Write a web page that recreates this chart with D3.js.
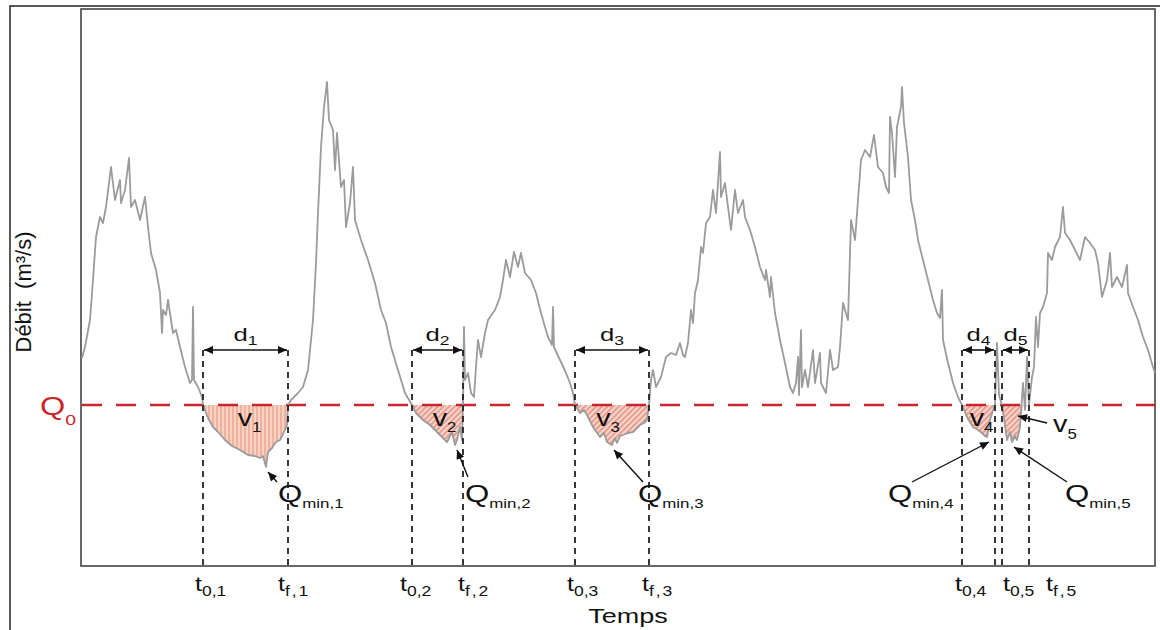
<!DOCTYPE html>
<html>
<head>
<meta charset="utf-8">
<script src="https://cdn.jsdelivr.net/npm/d3@7"></script>
<style>
  body { margin: 0; background: #fff; }
  svg { display: block; font-family: "Liberation Sans", Arial, sans-serif; }
</style>
</head>
<body>
<svg id="chart" width="1160" height="630"></svg>
<script>
'use strict'

// hydrograph: time step and discharge (m3/s, arbitrary scale)
const timeSteps = [
  1, 4, 9, 12, 15, 19, 22, 25, 30, 34, 39, 40, 44, 48, 50, 54, 59, 64, 67, 70,
  75, 79, 81, 82, 85, 87, 90, 92, 95, 99, 104, 109, 111, 112, 113, 117, 121, 122,
  127, 132, 137, 144, 151, 159, 167, 174, 179, 182, 185, 187, 191, 195, 199, 203, 206, 207,
  210, 217, 222, 227, 230, 232, 235, 237, 240, 243, 246, 248, 252, 254, 256, 260, 263, 265,
  269, 272, 274, 280, 287, 294, 300, 305, 310, 317, 324, 331,
  335, 342, 349, 356, 361, 366, 371, 374, 376, 379, 381, 382,
  383, 384, 387, 390, 393, 395, 397, 400, 404, 407, 414, 419, 422, 425, 429, 433, 437, 440,
  444, 450, 455, 460, 464, 467, 471, 472, 473, 479, 485, 489, 492, 494,
  499, 503, 506, 512, 519, 523, 526, 531, 534, 536, 539, 542, 547, 552, 556, 559, 563, 566, 568,
  570, 572, 575, 580, 585, 590, 595, 599, 602, 604, 607, 610, 612, 614, 617, 620, 622, 625,
  629, 632, 635, 639, 640, 644, 647, 650, 654, 657, 662, 664, 669, 674, 679, 684, 685, 689,
  690, 694, 699, 704, 709, 712, 715, 717, 718, 720, 721, 724, 727, 732, 734, 739, 740, 745,
  749, 752, 757, 759, 762, 767, 770, 774, 777, 780, 784, 789, 793, 797, 802, 805, 808, 809,
  811, 814, 816, 820, 821, 823, 827, 830, 834, 837, 842, 847, 852, 856, 859, 861, 862, 867,
  872, 877, 881,
  886, 889, 892, 897, 901, 904, 906, 909, 912, 914, 916, 918, 921,
  923, 926, 929, 931, 934, 936, 939, 942, 944, 946, 948,
  951, 953, 955, 957, 959, 962, 966, 967, 971, 974, 979, 982, 984, 989, 994, 999, 1004, 1009,
  1014, 1017, 1021, 1026, 1029, 1031, 1036, 1041, 1046, 1047, 1052, 1057, 1062, 1067, 1072, 1074
]
const discharge = [
  20.8, 21.9, 24.6, 28.6, 32.9, 34.9, 34.3, 35.9, 39.9, 36.6, 38.6, 36.3, 37.6, 40.8, 35.9, 36.6, 34.6, 36.9, 33.9, 31.3,
  29.6, 27.3, 23.3, 25.6, 25.1, 26.6, 24.6, 23.3, 23.6, 21.9, 19.9, 18.3, 18.6, 25.9, 18.6, 17.9, 16.9, 16.1,
  14.8, 13.9, 13.4, 12.6, 12.0, 11.6, 11.1, 11.0, 10.8, 11.0, 9.9, 11.4, 11.8, 12.4, 12.6, 13.4, 14.1, 16.1,
  16.6, 17.3, 17.9, 19.6, 22.6, 24.6, 30.3, 35.3, 41.9, 45.9, 48.4, 44.6, 43.6, 39.6, 43.3, 37.9, 38.6, 33.9,
  36.3, 39.9, 34.6, 32.6, 30.6, 28.3, 25.6, 24.3, 21.9, 19.6, 17.3, 16.1,
  15.3, 14.6, 14.1, 13.4, 12.9, 12.4, 13.4, 12.1, 12.6, 13.9, 12.6, 16.1,
  23.9, 18.6, 19.3, 17.3, 16.9, 19.9, 22.6, 20.9, 23.3, 24.6, 25.6, 26.9, 28.6, 30.6, 28.9, 31.4, 29.9, 31.3,
  29.3, 28.6, 27.3, 25.3, 23.9, 22.9, 22.1, 25.9, 21.9, 20.6, 19.3, 18.3, 17.3, 16.1,
  15.3, 15.6, 15.1, 13.9, 12.9, 13.3, 12.4, 12.1, 12.8, 12.3, 13.0, 13.1, 13.3, 13.4, 13.8, 14.1, 14.3, 14.6, 16.1,
  18.6, 19.6, 17.9, 18.9, 20.9, 21.3, 21.1, 22.3, 21.1, 20.9, 22.3, 25.6, 24.3, 27.3, 28.6, 31.9, 31.3, 34.3,
  34.9, 37.6, 35.3, 41.4, 36.9, 38.3, 35.9, 33.6, 37.6, 35.3, 36.6, 34.9, 33.6, 31.9, 29.9, 28.6, 29.6, 26.9,
  28.9, 25.3, 22.6, 20.3, 17.9, 17.3, 18.3, 20.9, 17.1, 23.6, 17.9, 19.6, 17.9, 21.6, 18.3, 21.3, 18.3, 17.3,
  21.6, 19.6, 19.9, 21.9, 26.3, 24.6, 34.6, 32.6, 36.6, 40.6, 41.6, 40.9, 43.1, 39.9, 39.3, 37.9, 37.3, 44.9,
  43.3, 38.9, 43.9, 45.9, 47.9, 44.3, 40.9, 36.6, 34.6, 32.6, 30.6, 28.6, 26.6, 25.3, 24.8, 27.6, 22.6, 20.3,
  18.3, 16.9, 16.1,
  14.9, 14.4, 13.9, 13.6, 13.3, 13.0, 12.9, 14.6, 15.6, 16.1, 22.3, 17.1, 16.1,
  14.8, 12.6, 13.4, 12.4, 13.0, 12.6, 13.9, 18.3, 15.6, 20.9, 16.1,
  18.9, 19.9, 24.9, 21.9, 25.3, 25.9, 27.3, 31.3, 30.6, 31.9, 32.9, 35.9, 33.3, 32.6, 31.6, 30.6, 32.9, 32.3,
  31.6, 30.3, 26.9, 28.6, 31.3, 27.9, 28.9, 27.9, 30.1, 27.3, 25.9, 24.6, 22.9, 21.6, 19.9, 19.3
]

// threshold and low-flow events
const Q0 = 16.1
const eventStart = [122, 331, 494, 881, 921]
const eventEnd = [207, 382, 568, 914, 948]
const eventIds = ['1', '2', '3', '4', '5']

const flow = timeSteps.map((t, i) => ({ t, q: discharge[i] }))

const W = 1160
const H = 630
const plot = { left: 81, top: 9, right: 1155, bottom: 566 }

const svg = d3.select('#chart')

const x = d3.scaleLinear().domain([0, 1074]).range([plot.left, plot.right])
const y = d3.scaleLinear().domain([0, 55.7]).range([plot.bottom, plot.top])

const defs = svg.append('defs')

// hatch patterns for the deficit volumes
const hv = defs.append('pattern').attr('id', 'hatch-v')
  .attr('patternUnits', 'userSpaceOnUse').attr('width', 4).attr('height', 4)
hv.append('rect').attr('width', 4).attr('height', 4).attr('fill', '#f9d3c2')
hv.append('line').attr('x1', 1).attr('x2', 1).attr('y1', 0).attr('y2', 4)
  .attr('stroke', '#e68f7d').attr('stroke-width', 1)

const hd = defs.append('pattern').attr('id', 'hatch-d')
  .attr('patternUnits', 'userSpaceOnUse').attr('width', 4).attr('height', 4)
  .attr('patternTransform', 'rotate(45)')
hd.append('rect').attr('width', 4).attr('height', 4).attr('fill', '#f8d6cb')
hd.append('line').attr('x1', 1).attr('x2', 1).attr('y1', 0).attr('y2', 4)
  .attr('stroke', '#d9655a').attr('stroke-width', 1)

// arrow heads
defs.append('marker').attr('id', 'head')
  .attr('viewBox', '0 -5 10 10').attr('refX', 10).attr('refY', 0)
  .attr('markerUnits', 'userSpaceOnUse')
  .attr('markerWidth', 10).attr('markerHeight', 9)
  .attr('orient', 'auto-start-reverse')
  .append('path').attr('d', 'M0,-4.5L10,0L0,4.5Z').attr('fill', '#111')

// outer frame
svg.append('path')
  .attr('d', `M10,${H} V6 H${W}`)
  .attr('fill', 'none').attr('stroke', '#222').attr('stroke-width', 1.5)

// plot box
svg.append('rect')
  .attr('x', plot.left).attr('y', plot.top)
  .attr('width', plot.right - plot.left).attr('height', plot.bottom - plot.top)
  .attr('fill', 'none').attr('stroke', '#444').attr('stroke-width', 1.6)

// deficit areas below Q0
const area = d3.area()
  .x(d => x(d.t))
  .y0(y(Q0))
  .y1(d => y(Math.min(d.q, Q0)))

eventIds.forEach((id, i) => {
  const pts = flow.filter(d => d.t >= eventStart[i] && d.t <= eventEnd[i])
  svg.append('path')
    .datum(pts)
    .attr('d', area)
    .attr('fill', i === 0 ? 'url(#hatch-v)' : 'url(#hatch-d)')
})

// Q0 threshold
svg.append('line')
  .attr('x1', plot.left + 1).attr('x2', plot.right)
  .attr('y1', y(Q0)).attr('y2', y(Q0))
  .attr('stroke', '#c9262c').attr('stroke-width', 2.5)
  .attr('stroke-dasharray', '20,14')

// discharge curve
svg.append('path')
  .datum(flow)
  .attr('d', d3.line().x(d => x(d.t)).y(d => y(d.q)))
  .attr('fill', 'none')
  .attr('stroke', '#9b9b9b')
  .attr('stroke-width', 1.8)
  .attr('stroke-linejoin', 'round')

const arrowY = 350

// dashed verticals at start / end of each event
const bounds = eventStart.flatMap((s, i) => [s, eventEnd[i]])
svg.append('g').selectAll('line')
  .data(bounds)
  .join('line')
  .attr('x1', d => x(d)).attr('x2', d => x(d))
  .attr('y1', arrowY).attr('y2', plot.bottom)
  .attr('stroke', '#222').attr('stroke-width', 1.8)
  .attr('stroke-dasharray', '6,5')

// duration arrows
svg.append('g').selectAll('line')
  .data(eventIds)
  .join('line')
  .attr('x1', (d, i) => x(eventStart[i]) + 1).attr('x2', (d, i) => x(eventEnd[i]) - 1)
  .attr('y1', arrowY).attr('y2', arrowY)
  .attr('stroke', '#111').attr('stroke-width', 1.6)
  .attr('marker-start', 'url(#head)').attr('marker-end', 'url(#head)')

// text helper: main letter + subscript, slightly widened like the figure
function label (px, py, main, sub, o) {
  const t = svg.append('text')
    .attr('transform', `translate(${px},${py}) scale(${o.sx || 1.35},1)`)
    .attr('font-size', o.size)
    .attr('text-anchor', o.anchor || 'start')
    .attr('fill', o.color || '#111')
  t.append('tspan').text(main)
  if (sub) {
    t.append('tspan').attr('font-size', o.subSize).attr('dy', o.subDy)
      .attr('letter-spacing', o.spacing || 0).text(sub)
  }
  return t
}

// d labels
eventIds.forEach((id, i) => {
  const cx = (x(eventStart[i]) + x(eventEnd[i])) / 2
  label(cx, 341, 'd', id, { size: 19, subSize: 13, subDy: 4, anchor: 'middle' })
})

// t tick labels under the axis (shift of the label from its dashed line)
const startShift = [-8, -12, -8, -7, 1]
const endShift = [-10, -5, -7, null, 17]
eventIds.forEach((id, i) => {
  label(x(eventStart[i]) + startShift[i], 591, 't', '0,' + id,
    { size: 20, subSize: 14, subDy: 5, sx: 1.25 })
  if (endShift[i] !== null) {
    label(x(eventEnd[i]) + endShift[i], 591, 't', 'f,' + id,
      { size: 20, subSize: 14, subDy: 5, sx: 1.25, spacing: 1.5 })
  }
})

// volume labels
const vOffset = [4, 7, -4, 3]
eventIds.slice(0, 4).forEach((id, i) => {
  const cx = (x(eventStart[i]) + x(eventEnd[i])) / 2 + vOffset[i]
  label(cx, 426, 'v', id, { size: 24, subSize: 14, subDy: 6, anchor: 'middle', sx: 1.2 })
})
label(1053, 432, 'v', '5', { size: 24, subSize: 14, subDy: 7, sx: 1.2 })
svg.append('line')
  .attr('x1', 1047).attr('y1', 423).attr('x2', 1018).attr('y2', 416)
  .attr('stroke', '#111').attr('stroke-width', 1.4)
  .attr('marker-end', 'url(#head)')

// Q_min arrows from the minimum of each event
const qminText = [[278, 502], [465, 502], [638, 502], [888, 502], [1065, 502]]
const qminTail = [[277, 482], [468, 477], [643, 482], [912, 482], [1067, 482]]
eventIds.forEach((id, i) => {
  const pts = flow.filter(d => d.t >= eventStart[i] && d.t <= eventEnd[i])
  const m = d3.least(pts, d => d.q)
  svg.append('line')
    .attr('x1', qminTail[i][0]).attr('y1', qminTail[i][1])
    .attr('x2', x(m.t) + 2).attr('y2', y(m.q) + 5)
    .attr('stroke', '#111').attr('stroke-width', 1.4)
    .attr('marker-end', 'url(#head)')
  label(qminText[i][0], qminText[i][1], 'Q', 'min,' + id, { size: 24, subSize: 13, subDy: 6, sx: 1.3 })
})

// Q0 label
label(40, 415, 'Q', '0', { size: 25, subSize: 15, subDy: 10, sx: 1.3, color: '#c9262c' })

// axis titles
label(628, 623, 'Temps', null, { size: 20, anchor: 'middle' })
svg.append('text')
  .attr('transform', 'translate(31,292) rotate(-90)')
  .attr('text-anchor', 'middle')
  .attr('font-size', 22)
  .attr('fill', '#111')
  .text('Débit\u00a0\u00a0(m³/s)')
</script>
</body>
</html>
